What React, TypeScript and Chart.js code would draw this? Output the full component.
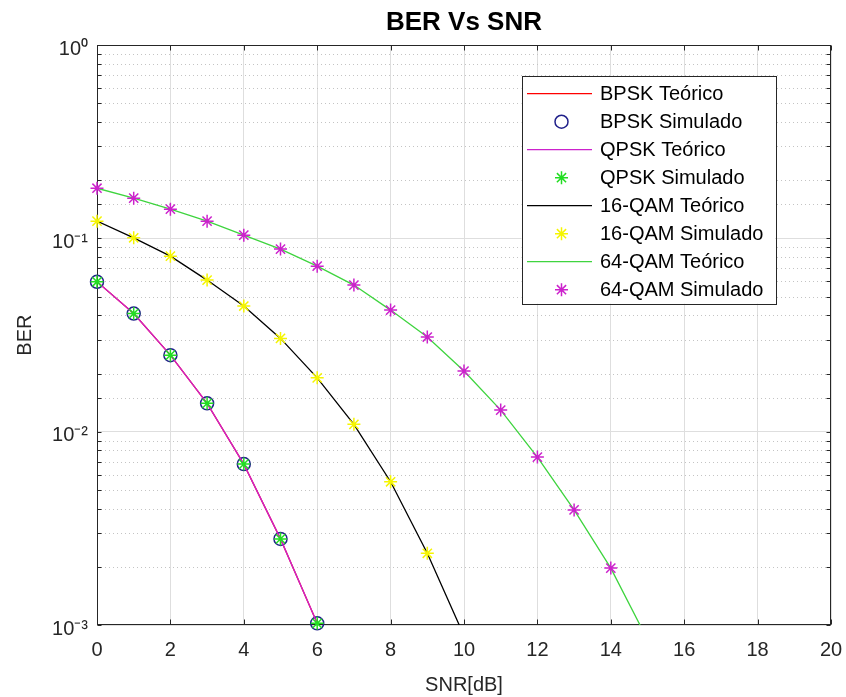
import React, { useEffect, useRef } from 'react';
import { Chart, registerables } from 'chart.js';
import * as helpers from 'chart.js/helpers';

Chart.register(...registerables);

// ---------- data ----------
const bpskTheorySnr = [0, 1, 2, 3, 4, 5, 6];
const bpskTheoryBer = [0.0597, 0.0409, 0.0249, 0.01402, 0.0068, 0.00279, 0.00102];
const bpskSimSnr = [0, 1, 2, 3, 4, 5, 6];
const bpskSimBer = [0.0597, 0.0409, 0.0249, 0.01402, 0.0068, 0.00279, 0.00102];

const qpskTheorySnr = [0, 1, 2, 3, 4, 5, 6];
const qpskTheoryBer = [0.0597, 0.0409, 0.0249, 0.01402, 0.0068, 0.00279, 0.00102];
const qpskSimSnr = [0, 1, 2, 3, 4, 5, 6];
const qpskSimBer = [0.0597, 0.0409, 0.0249, 0.01402, 0.0068, 0.00279, 0.00102];

const qam16TheorySnr = [0, 1, 2, 3, 4, 5, 6, 7, 8, 9, 10];
const qam16TheoryBer = [0.1229, 0.1008, 0.081, 0.0609, 0.0447, 0.0304, 0.019, 0.01092, 0.00551, 0.00235, 0.00088];
const qam16SimSnr = [0, 1, 2, 3, 4, 5, 6, 7, 8, 9];
const qam16SimBer = [0.1229, 0.1008, 0.081, 0.0609, 0.0447, 0.0304, 0.019, 0.01092, 0.00551, 0.00235];

const qam64TheorySnr = [0, 1, 2, 3, 4, 5, 6, 7, 8, 9, 10, 11, 12, 13, 14, 15];
const qam64TheoryBer = [0.182, 0.1617, 0.1418, 0.1229, 0.104, 0.0881, 0.0719, 0.0574, 0.0426, 0.0309, 0.0206, 0.01294, 0.00739, 0.00394, 0.00197, 0.00084];
const qam64SimSnr = [0, 1, 2, 3, 4, 5, 6, 7, 8, 9, 10, 11, 12, 13, 14];
const qam64SimBer = [0.182, 0.1617, 0.1418, 0.1229, 0.104, 0.0881, 0.0719, 0.0574, 0.0426, 0.0309, 0.0206, 0.01294, 0.00739, 0.00394, 0.00197];

const xTickStep = 2;
const xMin = 0;
const xMax = 20;
const yMin = 1e-3;
const yMax = 1;
const yTickLabels: Record<string, string> = { '0': '10⁰', '-1': '10⁻¹', '-2': '10⁻²', '-3': '10⁻³' };

const titleText = 'BER Vs SNR';
const xLabel = 'SNR[dB]';
const yLabel = 'BER';

// ---------- helpers ----------
const FONT = '"Liberation Sans", Arial, Helvetica, sans-serif';
const AXIS_COLOR = '#262626';

const toPoints = (xs: number[], ys: number[]) => xs.map((x, i) => ({ x, y: ys[i] }));
const isDecade = (v: number) => {
  const l = Math.log10(v);
  return Math.abs(l - Math.round(l)) < 1e-6;
};

const axesPlugin = {
  id: 'matlabAxes',
  beforeDatasetsDraw(chart: any) {
    const { ctx, chartArea: a, scales } = chart;
    const xs = scales.x;
    const ys = scales.y;
    ctx.save();
    // minor dotted grid
    ctx.strokeStyle = '#c4c4c4';
    ctx.lineWidth = 1;
    ctx.setLineDash([1, 3]);
    ys.ticks.forEach((t: any) => {
      if (!isDecade(t.value)) {
        const py = Math.round(ys.getPixelForValue(t.value)) + 0.5;
        ctx.beginPath();
        ctx.moveTo(a.left, py);
        ctx.lineTo(a.right, py);
        ctx.stroke();
      }
    });
    ctx.setLineDash([]);
    // box
    ctx.strokeStyle = AXIS_COLOR;
    ctx.lineWidth = 1;
    const l = Math.round(a.left) + 0.5;
    const r = Math.round(a.right) - 0.5;
    const t = Math.round(a.top) + 0.5;
    const b = Math.round(a.bottom) - 0.5;
    ctx.strokeRect(l, t, r - l, b - t);
    // inward ticks
    ctx.beginPath();
    xs.ticks.forEach((tk: any) => {
      const px = Math.round(xs.getPixelForValue(tk.value)) + 0.5;
      ctx.moveTo(px, b);
      ctx.lineTo(px, b - 5);
      ctx.moveTo(px, t);
      ctx.lineTo(px, t + 5);
    });
    ys.ticks.forEach((tk: any) => {
      const py = Math.round(ys.getPixelForValue(tk.value)) + 0.5;
      ctx.moveTo(l, py);
      ctx.lineTo(l + 4, py);
      ctx.moveTo(r, py);
      ctx.lineTo(r - 4, py);
    });
    ctx.stroke();
    ctx.restore();
  },
};

const legendPlugin = {
  id: 'matlabLegend',
  afterDatasetsDraw(chart: any) {
    const { ctx, chartArea: a } = chart;
    const ds = chart.data.datasets;
    const right = a.right - 56;
    const width = 253.5;
    const left = right - width;
    const top = a.top + 31;
    const rowStep = 28;
    const height = ds.length * rowStep + 3.5;
    ctx.save();
    ctx.fillStyle = '#ffffff';
    ctx.fillRect(left, top, width, height);
    ctx.strokeStyle = AXIS_COLOR;
    ctx.lineWidth = 1;
    ctx.strokeRect(Math.round(left) + 0.5, Math.round(top) + 0.5, Math.round(width), Math.round(height));
    ctx.font = `20px ${FONT}`;
    ctx.textBaseline = 'middle';
    ctx.textAlign = 'left';
    ds.forEach((d: any, i: number) => {
      const cy = top + 17.5 + i * rowStep;
      if (d.showLine) {
        ctx.strokeStyle = d.borderColor;
        ctx.lineWidth = d.borderWidth;
        ctx.beginPath();
        ctx.moveTo(left + 5.5, cy);
        ctx.lineTo(left + 70.5, cy);
        ctx.stroke();
      } else {
        ctx.strokeStyle = d.pointBorderColor;
        ctx.fillStyle = d.pointBackgroundColor;
        ctx.lineWidth = d.pointBorderWidth;
        helpers.drawPoint(ctx, {
          pointStyle: d.pointStyle,
          radius: d.pointRadius,
          rotation: 0,
          borderWidth: d.pointBorderWidth,
        } as any, left + 40, cy);
      }
      ctx.fillStyle = '#000000';
      ctx.fillText(d.label, left + 78.5, cy + 1);
    });
    ctx.restore();
  },
};

const lineDs = (label: string, xs: number[], ys: number[], color: string, order: number) => ({
  label,
  data: toPoints(xs, ys),
  showLine: true,
  borderColor: color,
  backgroundColor: color,
  borderWidth: 1.3,
  pointRadius: 0,
  pointHoverRadius: 0,
  order,
});

const markerDs = (label: string, xs: number[], ys: number[], color: string, style: string, order: number) => ({
  label,
  data: toPoints(xs, ys),
  showLine: false,
  pointStyle: style,
  pointRadius: 6.5,
  pointBorderColor: color,
  pointBackgroundColor: 'rgba(0,0,0,0)',
  pointBorderWidth: 1.5,
  borderColor: color,
  backgroundColor: 'rgba(0,0,0,0)',
  clip: false,
  order,
});

export default function App() {
  const canvasRef = useRef<HTMLCanvasElement | null>(null);

  useEffect(() => {
    if (!canvasRef.current) return;
    const chart = new Chart(canvasRef.current, {
      type: 'scatter',
      data: {
        datasets: [
          lineDs('BPSK Teórico', bpskTheorySnr, bpskTheoryBer, '#ff0000', 8),
          markerDs('BPSK Simulado', bpskSimSnr, bpskSimBer, '#20208a', 'circle', 7),
          lineDs('QPSK Teórico', qpskTheorySnr, qpskTheoryBer, '#cc22cc', 6),
          markerDs('QPSK Simulado', qpskSimSnr, qpskSimBer, '#22dd22', 'star', 5),
          lineDs('16-QAM Teórico', qam16TheorySnr, qam16TheoryBer, '#000000', 4),
          markerDs('16-QAM Simulado', qam16SimSnr, qam16SimBer, '#f5f500', 'star', 3),
          lineDs('64-QAM Teórico', qam64TheorySnr, qam64TheoryBer, '#3fd43f', 2),
          markerDs('64-QAM Simulado', qam64SimSnr, qam64SimBer, '#cc22cc', 'star', 1),
        ] as any,
      },
      options: {
        animation: false,
        responsive: true,
        maintainAspectRatio: false,
        devicePixelRatio: 1,
        events: [],
        layout: { padding: { left: 0, top: 0, right: 15, bottom: 0 } },
        plugins: {
          legend: { display: false },
          tooltip: { enabled: false },
          title: {
            display: true,
            text: titleText,
            fullSize: false,
            color: '#000000',
            font: { family: FONT, size: 26, weight: 'bold' },
            padding: { top: 7, bottom: 7 },
          },
        },
        scales: {
          x: {
            type: 'linear',
            min: xMin,
            max: xMax,
            afterFit: (scale: any) => {
              scale.height = 72;
              scale.paddingLeft = 0;
              scale.paddingRight = 0;
            },
            ticks: {
              stepSize: xTickStep,
              color: AXIS_COLOR,
              padding: 13,
              font: { family: FONT, size: 20 },
              maxRotation: 0,
            },
            grid: { color: '#dedede', lineWidth: 1, drawTicks: false },
            border: { display: false },
            title: {
              display: true,
              text: xLabel,
              color: AXIS_COLOR,
              font: { family: FONT, size: 20 },
              padding: { top: 0, bottom: 0 },
            },
          },
          y: {
            type: 'logarithmic',
            min: yMin,
            max: yMax,
            afterFit: (scale: any) => {
              scale.width = 97;
              scale.paddingTop = 0;
              scale.paddingBottom = 0;
            },
            ticks: {
              autoSkip: false,
              color: AXIS_COLOR,
              padding: 9,
              labelOffset: 4,
              font: { family: FONT, size: 20 },
              callback: (value: any) => {
                const v = Number(value);
                if (!isDecade(v)) return '';
                return yTickLabels[String(Math.round(Math.log10(v)))] ?? '';
              },
            },
            grid: {
              drawTicks: false,
              lineWidth: 1,
              color: (ctx: any) => (ctx.tick && isDecade(ctx.tick.value) ? '#dedede' : 'rgba(0,0,0,0)'),
            },
            border: { display: false },
            title: {
              display: true,
              text: yLabel,
              color: AXIS_COLOR,
              font: { family: FONT, size: 20 },
              padding: { top: 13, bottom: 0 },
            },
          },
        },
      } as any,
      plugins: [axesPlugin, legendPlugin],
    });
    return () => chart.destroy();
  }, []);

  return (
    <div style={{ position: 'fixed', left: 0, top: 0, width: 846, height: 697, background: '#ffffff' }}>
      <canvas ref={canvasRef} />
    </div>
  );
}
